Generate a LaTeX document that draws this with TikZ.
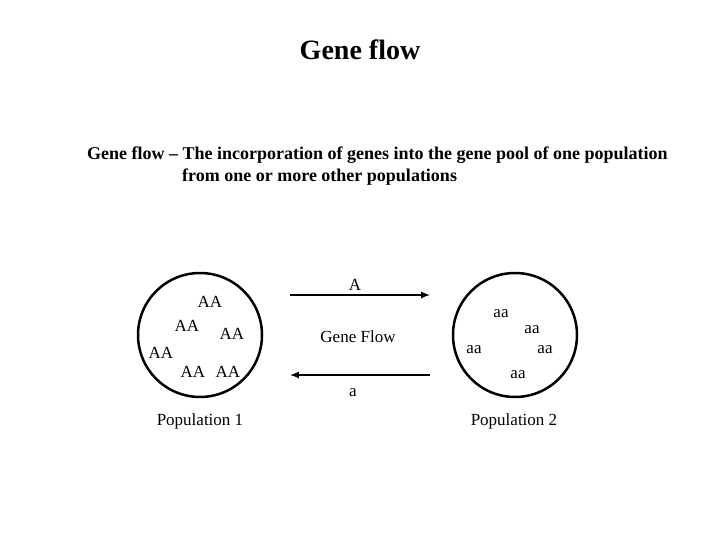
\documentclass[tikz,border=0pt]{standalone}
\usepackage{fontspec}
\setmainfont{Liberation Serif}
\begin{document}
\begin{tikzpicture}[x=1pt,y=-1pt,
  lbl/.style={font=\fontsize{17}{19}\selectfont, inner sep=0pt},
  pop/.style={draw, line width=2.5pt, minimum size=124pt, circle, inner sep=0pt},
  flow/.style={-latex, line width=2pt}]
\useasboundingbox (0,0) rectangle (720,540);
\node[font=\bfseries\fontsize{28}{32}\selectfont] (title) at (360,50) {Gene flow};
\node[font=\bfseries\fontsize{18}{22}\selectfont, anchor=west, inner sep=0pt] (def1) at (87,155) {Gene flow -- The incorporation of genes into the gene pool of one population};
\node[font=\bfseries\fontsize{18}{22}\selectfont, anchor=west, inner sep=0pt] (def2) at (182,177) {from one or more other populations};
\node[pop] (p1) at (200,335) {};
\node[pop] (p2) at (515,335) {};
\node[lbl] (a1) at (210,302) {AA};
\node[lbl] (a2) at (187,326) {AA};
\node[lbl] (a3) at (232,334) {AA};
\node[lbl] (a4) at (161,353) {AA};
\node[lbl] (a5) at (193,372) {AA};
\node[lbl] (a6) at (228,372) {AA};
\node[lbl] (b1) at (501,314) {aa};
\node[lbl] (b2) at (532,330) {aa};
\node[lbl] (b3) at (474,350) {aa};
\node[lbl] (b4) at (545,350) {aa};
\node[lbl] (b5) at (518,375) {aa};
\coordinate (t1) at (290,295); \coordinate (t2) at (430,295);
\coordinate (u1) at (430,375); \coordinate (u2) at (290,375);
\draw[flow] (t1) -- (t2);
\draw[flow] (u1) -- (u2);
\node[lbl] (A) at (355,285) {A};
\node[lbl] (a) at (353,393) {a};
\node[lbl] (gf) at (358,337) {Gene Flow};
\node[lbl] (l1) at (200,421) {Population 1};
\node[lbl] (l2) at (514,421) {Population 2};
\end{tikzpicture}
\end{document}
